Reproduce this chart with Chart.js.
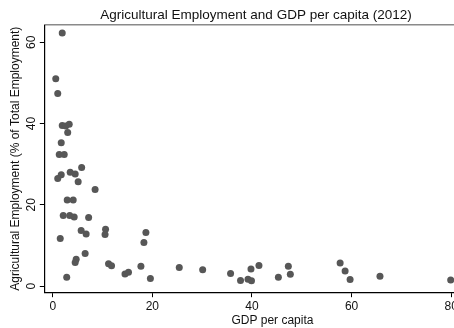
<!DOCTYPE html>
<html>
<head>
<meta charset="utf-8">
<script src="https://cdn.jsdelivr.net/npm/chart.js@4/dist/chart.umd.min.js"></script>
<style>
    html, body { margin: 0; padding: 0; background: #fff; overflow: hidden; }
    #wrap { width: 504px; height: 328px; }
</style>
</head>
<body>
<div id="wrap"><canvas id="scatterChart" width="504" height="328"></canvas></div>
<script>
// GDP per capita (thousands) vs agricultural employment share, 2012
var gdpPerCapita = [
    1.9, 0.6, 1.0, 1.9, 2.6, 3.3, 3.0, 1.7, 1.3, 2.3,
    5.8, 3.5, 4.5, 1.7, 1.0, 5.1, 8.5, 2.9, 4.1, 2.1,
    3.4, 4.3, 7.2, 5.7, 6.7, 10.6, 10.5, 1.5, 6.5, 4.7,
    4.5, 11.2, 11.8, 2.8, 18.7, 18.3, 14.5, 15.2, 17.7, 19.6,
    25.4, 30.1, 35.7, 37.7, 39.2, 39.9, 39.8, 41.4, 45.3, 47.3,
    47.7, 57.7, 58.7, 59.7, 65.7, 79.9
];
var agriEmployment = [
    62.3, 51.0, 47.4, 39.5, 39.4, 39.8, 37.8, 35.3, 32.4, 32.4,
    29.2, 28.0, 27.6, 27.4, 26.5, 25.7, 23.8, 21.2, 21.2, 17.4,
    17.4, 17.0, 16.9, 13.7, 12.8, 14.0, 12.7, 11.7, 8.0, 6.6,
    5.8, 5.5, 5.0, 2.2, 13.2, 10.7, 3.0, 3.4, 4.9, 1.9,
    4.6, 4.0, 3.1, 1.4, 1.7, 1.3, 4.2, 5.1, 2.2, 4.9,
    2.9, 5.7, 3.7, 1.6, 2.4, 1.5
];
var xTicks = [0, 20, 40, 60, 80];
var yTicks = [0, 20, 40, 60];

document.addEventListener("DOMContentLoaded", function() {
    var ctx = document.getElementById("scatterChart").getContext("2d");
    var points = gdpPerCapita.map(function(x, i) {
        return { x: x, y: agriEmployment[i] };
    });

    new Chart(ctx, {
        type: "scatter",
        data: {
            datasets: [{
                data: points,
                backgroundColor: "#575757",
                borderColor: "#575757",
                pointRadius: 3.5,
                borderWidth: 0
            }]
        },
        options: {
            responsive: false,
            animation: false,
            layout: { padding: { top: 0, right: 0, bottom: 0, left: 8 } },
            plugins: {
                legend: { display: false },
                tooltip: { enabled: false },
                title: {
                    display: true,
                    text: "Agricultural Employment and GDP per capita (2012)",
                    color: "#111",
                    font: { family: "Liberation Sans", size: 13.5, weight: "normal" },
                    padding: { top: 7, bottom: -6 }
                }
            },
            scales: {
                x: {
                    type: "linear",
                    min: -1.6,
                    max: 89.8,
                    afterBuildTicks: function(scale) {
                        scale.ticks = xTicks.map(function(v) { return { value: v }; });
                    },
                    grid: { display: true, drawOnChartArea: false, drawTicks: true, tickLength: 5, color: "#000" },
                    border: { display: true, color: "#000", width: 1.2 },
                    ticks: { color: "#111", font: { family: "Liberation Sans", size: 12 }, padding: 2, maxRotation: 0 },
                    title: {
                        display: true,
                        text: "GDP per capita",
                        color: "#111",
                        font: { family: "Liberation Sans", size: 12 },
                        padding: { top: -2, bottom: 0 }
                    }
                },
                x2: {
                    type: "linear",
                    position: "top",
                    min: -1.6,
                    max: 89.8,
                    grid: { display: false },
                    border: { display: true, color: "#8a8a8a", width: 1.5 },
                    ticks: { display: false }
                },
                y: {
                    min: -1.5,
                    max: 64.2,
                    afterBuildTicks: function(scale) {
                        scale.ticks = yTicks.map(function(v) { return { value: v }; });
                    },
                    grid: { display: true, drawOnChartArea: false, drawTicks: true, tickLength: 5, color: "#000" },
                    border: { display: true, color: "#000", width: 1.2 },
                    ticks: { color: "#111", font: { family: "Liberation Sans", size: 12 }, padding: 1.5, minRotation: 90, maxRotation: 90, crossAlign: "center" },
                    title: {
                        display: true,
                        text: "Agricultural Employment (% of Total Employment)",
                        color: "#111",
                        font: { family: "Liberation Sans", size: 12 },
                        padding: { top: 0, bottom: 0 }
                    }
                }
            }
        }
    });
});
</script>
</body>
</html>
